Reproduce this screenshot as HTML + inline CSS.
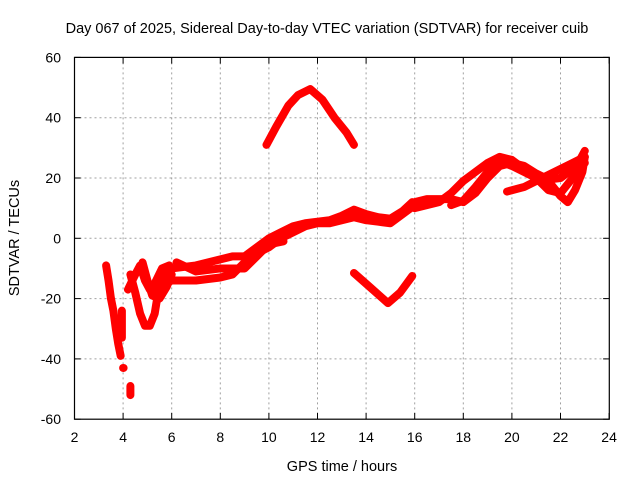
<!DOCTYPE html>
<html><head><meta charset="utf-8"><style>
body{margin:0;background:#fff}
svg{display:block;font-family:"Liberation Sans",sans-serif}
</style></head><body>
<svg id="chart" width="640" height="480" viewBox="0 0 640 480">
<rect width="640" height="480" fill="#fff"/>
<text x="327" y="33" text-anchor="middle" font-size="14.5">Day 067 of 2025, Sidereal Day-to-day VTEC variation (SDTVAR) for receiver cuib</text>
<text x="342" y="471" text-anchor="middle" font-size="14.5">GPS time / hours</text>
<text transform="translate(19,238) rotate(-90)" text-anchor="middle" font-size="14.5">SDTVAR / TECUs</text>
<g id="grid"></g><g id="ticks"></g><g id="series"></g>
<rect x="74.5" y="57.4" width="534.8" height="361.8" fill="none" stroke="#000" stroke-width="1.2"/>
</svg>
<script>
const xTicks=[2,4,6,8,10,12,14,16,18,20,22,24];
const yTicks=[-60,-40,-20,0,20,40,60];
const arcTop=[[9.9,31],[10.3,37],[10.8,44],[11.2,47.5],[11.7,49.5],[12.2,46],[12.7,40],[13.2,35],[13.5,31]];
const vBottom=[[13.5,-11.5],[14.2,-16.5],[14.9,-21.5],[15.4,-18],[15.9,-12.5]];
const earlyA=[[3.3,-9],[3.4,-14],[3.5,-20],[3.6,-24],[3.7,-30],[3.8,-35],[3.9,-39]];
const earlyA2=[[3.95,-24],[3.95,-33]];
const earlyA3=[[4.0,-43],[4.02,-43]];
const earlyA4=[[4.3,-49],[4.3,-52]];
const earlyB=[[4.3,-12],[4.5,-18],[4.7,-25],[4.9,-29],[5.1,-29],[5.3,-25],[5.4,-20],[5.5,-14],[5.7,-12]];
const earlyC=[[4.2,-17],[4.5,-12],[4.7,-9],[4.9,-14],[5.1,-17],[5.3,-15],[5.6,-10],[5.9,-9]];
const earlyD=[[4.8,-8],[5.0,-14],[5.2,-19],[5.5,-20],[5.8,-16],[6.0,-12]];
const bandLow=[[5.5,-16],[6,-14],[7,-14],[8,-13],[8.5,-12],[9,-8],[9.5,-5],[10,-3],[10.5,0],[11,2],[11.5,4],[12,5],[12.5,5],[13,6],[13.5,7],[14,6],[14.5,5.5],[15,5],[15.5,8],[16,11]];
const bandHigh=[[5.5,-12],[6,-10],[7,-9],[8,-7],[8.5,-6],[9,-6],[9.5,-3],[10,0],[10.5,2],[11,4],[11.5,5],[12,5.5],[12.5,6],[13,7.5],[13.5,9.5],[14,8],[14.5,7],[15,6.5],[15.5,9],[15.9,12]];
const bandMid=[[6.2,-8],[7,-11],[8,-10],[9,-10],[9.5,-6],[10,-2],[10.6,-1]];
const right1=[[16,10],[16.5,11],[17,12],[17.5,15],[18,19],[18.5,22],[19,25],[19.5,27],[20,26],[20.5,23],[21,21],[21.5,19],[22,14],[22.3,12],[22.6,16],[22.9,22],[23,27]];
const right2=[[16,12],[16.5,13],[17,13],[17.5,13],[18,12],[18.5,15],[19,20],[19.5,24],[20,25],[20.5,24],[21,21.5],[21.5,19.5],[22,20],[22.5,23],[23,25]];
const right3=[[17.5,11],[18,12.5],[18.5,17],[19,22],[19.5,25.5],[20,24],[20.5,22],[21,20],[21.5,16],[22,15],[22.5,20],[22.8,26],[23,29]];
const right4=[[19.8,15.5],[20.5,17],[21,19],[21.5,21],[22,23],[22.5,25],[23,27]];
const allSeries=[arcTop,vBottom,earlyA,earlyA2,earlyA3,earlyA4,earlyB,earlyC,earlyD,bandLow,bandHigh,bandMid,right1,right2,right3,right4];

const X0=74.5,XS=24.3,Y0=238.3,YS=3.015;
const xs=h=>X0+(h-2)*XS, ys=v=>Y0-v*YS;
const NS="http://www.w3.org/2000/svg";
const grid=document.getElementById('grid'),ticks=document.getElementById('ticks'),ser=document.getElementById('series');
function mk(t,a,p){const e=document.createElementNS(NS,t);for(const k in a)e.setAttribute(k,a[k]);p.appendChild(e);return e;}
xTicks.forEach(t=>{
 const x=xs(t);
 if(t>2&&t<24){const g=mk('line',{x1:x,y1:57.4,x2:x,y2:419.2,stroke:'#a0a0a0','stroke-dasharray':'2,3'},grid);
 
 }
 mk('line',{x1:x,y1:419.2,x2:x,y2:413,stroke:'#000'},ticks);
 mk('line',{x1:x,y1:57.4,x2:x,y2:63.6,stroke:'#000'},ticks);
 const l=mk('text',{x:x,y:442,'text-anchor':'middle','font-size':'14'},ticks);l.textContent=t;
 
 
});
yTicks.forEach(t=>{
 const y=ys(t);
 if(t>-60&&t<60){const g=mk('line',{x1:74.5,y1:y,x2:609.3,y2:y,stroke:'#a0a0a0','stroke-dasharray':'2,3'},grid);
 
 }
 mk('line',{x1:74.5,y1:y,x2:80.7,y2:y,stroke:'#000'},ticks);
 mk('line',{x1:609.3,y1:y,x2:603.1,y2:y,stroke:'#000'},ticks);
 const l=mk('text',{x:61,y:y+5,'text-anchor':'end','font-size':'14'},ticks);l.textContent=t;
 
 
});
allSeries.forEach(s=>{
 const p=mk('polyline',{points:s.map(d=>xs(d[0])+','+ys(d[1])).join(' '),fill:'none',stroke:'#ff0000','stroke-width':'8','stroke-linejoin':'round','stroke-linecap':'round'},ser);
 
 
});
</script>
</body></html>
